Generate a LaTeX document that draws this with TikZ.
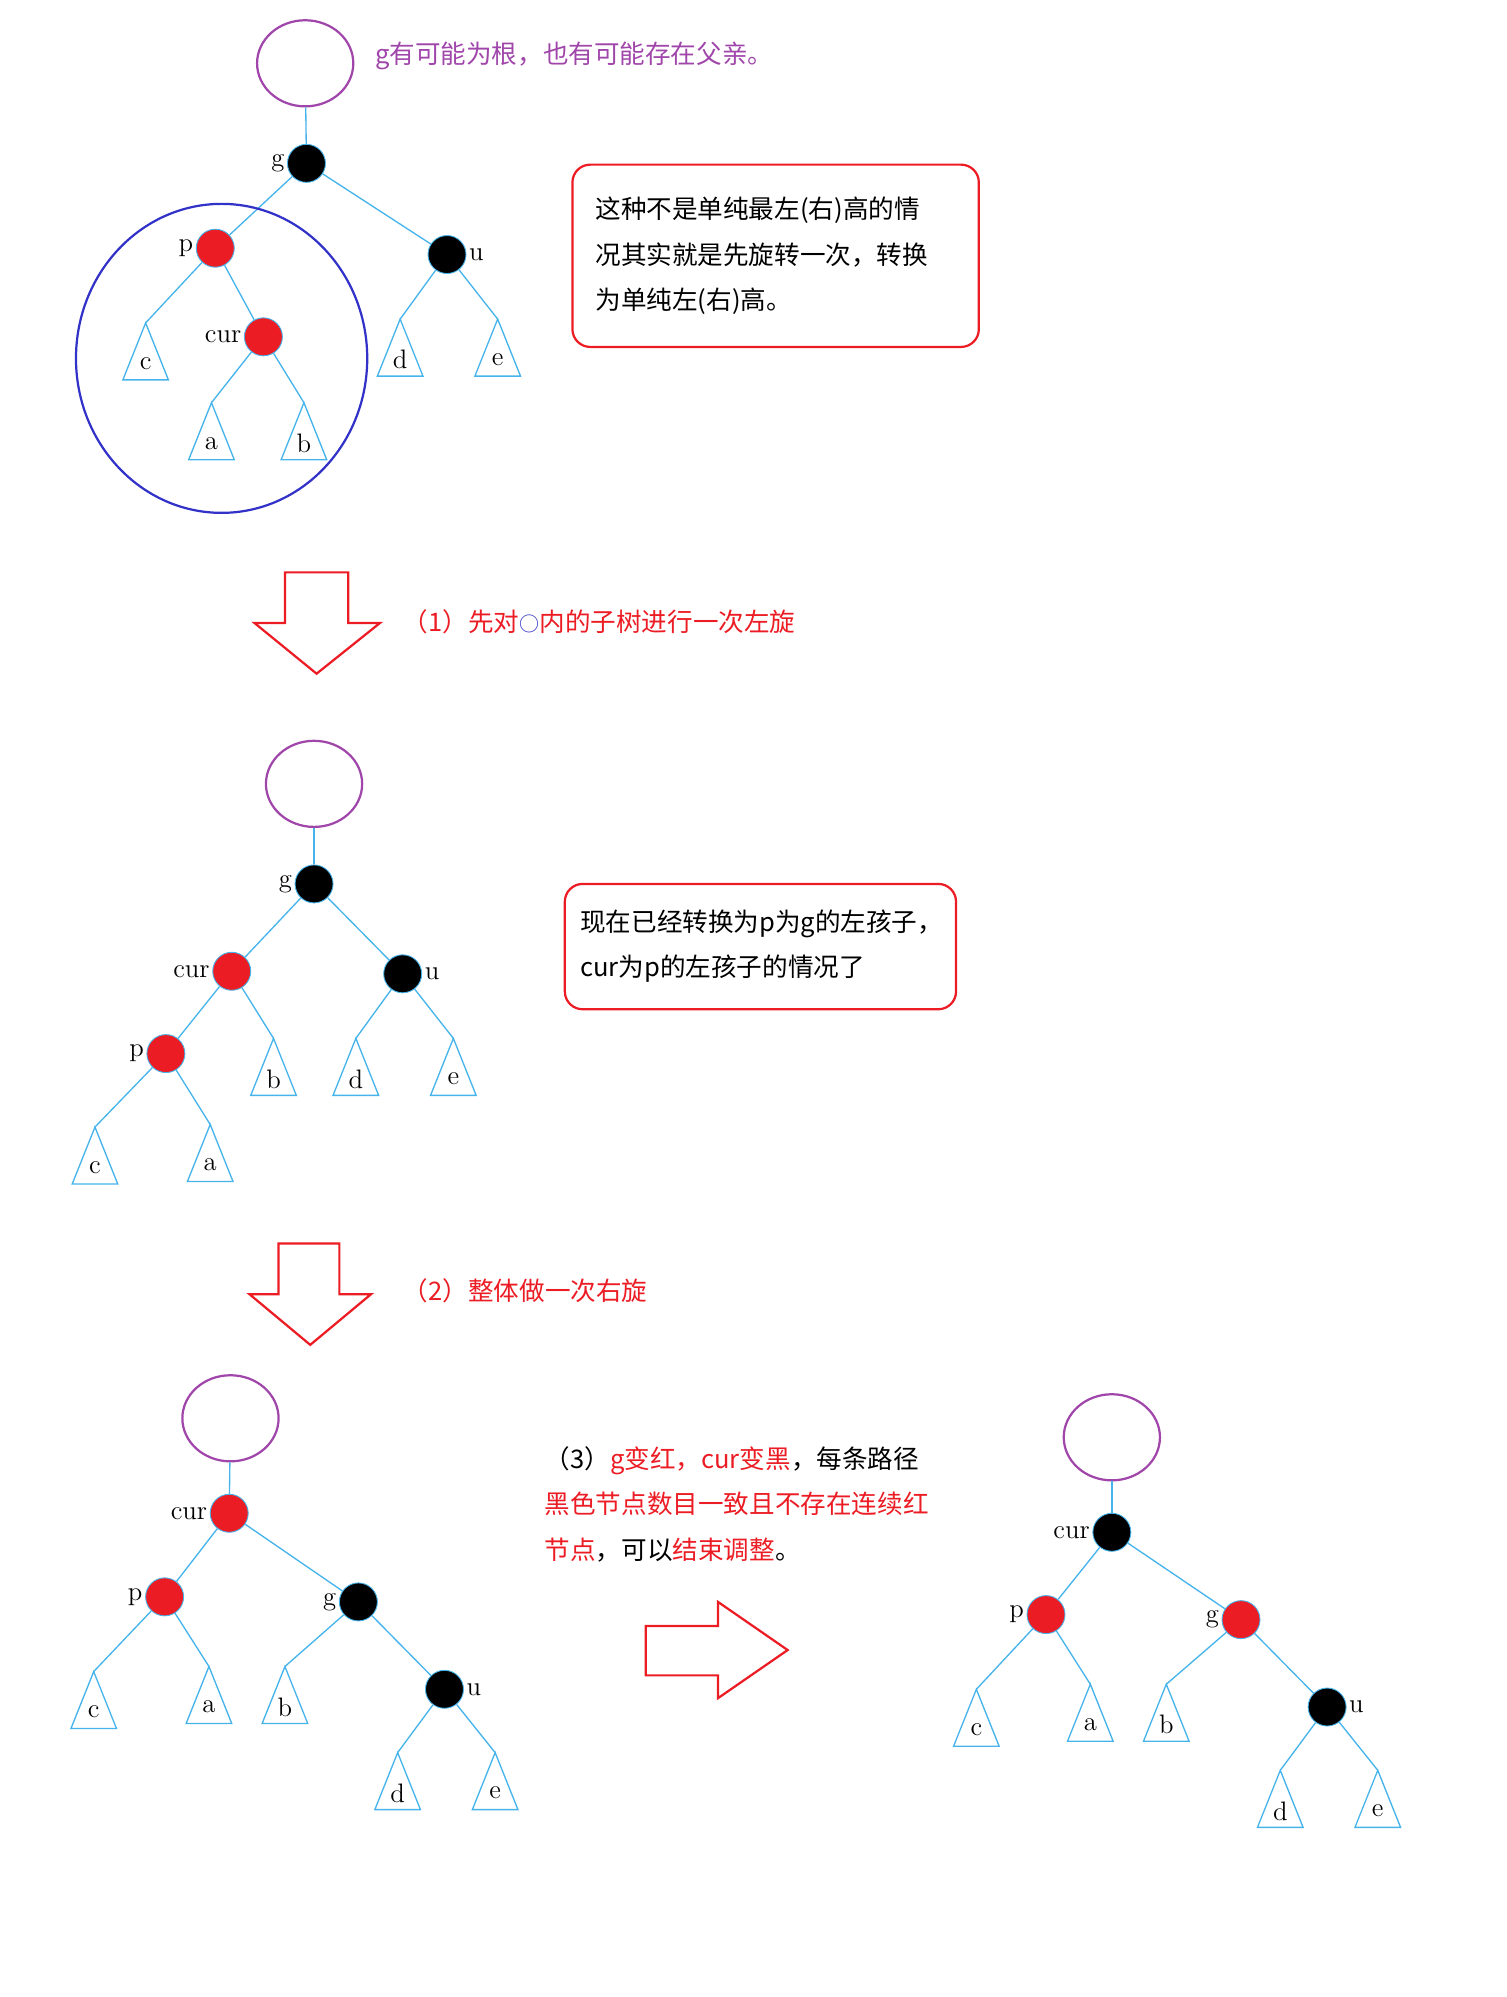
\documentclass[tikz,border=0pt]{standalone}
\usepackage{fontspec}
\newfontfamily\cjk{Noto Sans CJK SC}
\usetikzlibrary{calc,positioning}
\definecolor{edgecolor}{RGB}{70,180,235}
\definecolor{rbred}{RGB}{236,28,36}
\definecolor{rootcolor}{RGB}{160,70,170}
\definecolor{ringcolor}{RGB}{50,50,200}
\tikzset{
  edge/.style={draw=edgecolor, line width=0.6pt},
  rednode/.style={circle, draw=edgecolor, fill=rbred, minimum size=0.6cm, inner sep=0pt, label distance=4pt},
  blacknode/.style={circle, draw=edgecolor, fill=black, minimum size=0.6cm, inner sep=0pt, label distance=4pt},
  lbl/.style={font=\large, inner sep=1pt},
  rootring/.style={ellipse, draw=rootcolor, line width=1pt, minimum width=1.52cm, minimum height=1.36cm},
  note/.style={font=\cjk\fontsize{11.5}{20.5}\selectfont, align=left, anchor=west},
  notebox/.style={draw=rbred, line width=1pt, rounded corners=8pt},
  bigarrow/.style={draw=rbred, line width=1pt, fill=white}
}
\usetikzlibrary{shapes.geometric}
% subtree triangle: name, apex, letter
\newcommand\subtri[3]{%
  \coordinate (#1) at (#2);
  \draw[edge] (#1) -- ++(-18,45) -- ++(36,0) -- cycle;
  \node[lbl] (#1l) at ($(#1)+(0,32)$) {#3};}
\begin{document}
\begin{tikzpicture}[x=0.02cm, y=-0.02cm]
\useasboundingbox (0,0) rectangle (1190,1577);

% ---- first tree
\node[rootring] (r1) at (241,50) {};
\node[note, text=rootcolor] (t1) at (290,44) {g有可能为根，也有可能存在父亲。};
\node[blacknode, label={[lbl]left:g}] (g1) at (242,129) {};
\node[rednode, label={[lbl]left:p}] (p1) at (170,196) {};
\node[blacknode, label={[lbl]right:u}] (u1) at (353,201) {};
\node[rednode, label={[lbl]left:cur}] (cur1) at (208,266) {};
\subtri{c1}{115,255}{c}
\subtri{a1}{167,318}{a}
\subtri{b1}{240,318}{b}
\subtri{d1}{316,252}{d}
\subtri{e1}{393,252}{e}
\draw[edge] (r1) -- (g1);
\draw[edge] (g1) -- (p1);
\draw[edge] (g1) -- (u1);
\draw[edge] (p1) -- (c1);
\draw[edge] (p1) -- (cur1);
\draw[edge] (cur1) -- (a1);
\draw[edge] (cur1) -- (b1);
\draw[edge] (u1) -- (d1);
\draw[edge] (u1) -- (e1);
\draw[ringcolor, line width=1pt] (175,283) ellipse (115 and 122);
\node[notebox, minimum width=6.42cm, minimum height=2.88cm] (box1) at (612.5,202) {};
\node[note] (n1) at (464,202) {这种不是单纯最左(右)高的情\\况其实就是先旋转一次，转换\\为单纯左(右)高。};

% ---- first arrow
\draw[bigarrow] (225,452) -- (275,452) -- (275,492) -- (300,492) -- (250,532) -- (201,492) -- (225,492) -- cycle;
\node[note, text=rbred] (s1) at (312,491) {（1）先对{\color{ringcolor}\small○}内的子树进行一次左旋};

% ---- second tree
\node[rootring] (r2) at (248,619) {};
\node[blacknode, label={[lbl]left:g}] (g2) at (248,698) {};
\node[rednode, label={[lbl]left:cur}] (cur2) at (183,767) {};
\node[blacknode, label={[lbl]right:u}] (u2) at (318,769) {};
\node[rednode, label={[lbl]left:p}] (p2) at (131,832) {};
\subtri{b2}{216,820}{b}
\subtri{d2}{281,820}{d}
\subtri{e2}{358,820}{e}
\subtri{c2}{75,890}{c}
\subtri{a2}{166,888}{a}
\draw[edge] (r2) -- (g2);
\draw[edge] (g2) -- (cur2);
\draw[edge] (g2) -- (u2);
\draw[edge] (cur2) -- (p2);
\draw[edge] (cur2) -- (b2);
\draw[edge] (u2) -- (d2);
\draw[edge] (u2) -- (e2);
\draw[edge] (p2) -- (c2);
\draw[edge] (p2) -- (a2);
\node[notebox, minimum width=6.18cm, minimum height=1.98cm] (box2) at (600.5,747.5) {};
\node[note] (n2) at (452,747) {现在已经转换为p为g的左孩子，\\cur为p的左孩子的情况了};

% ---- second arrow
\draw[bigarrow] (220,982) -- (268,982) -- (268,1022) -- (293,1022) -- (245,1062) -- (197,1022) -- (220,1022) -- cycle;
\node[note, text=rbred] (s2) at (312,1019) {（2）整体做一次右旋};

% ---- third tree
\node[rootring] (r3) at (182,1120) {};
\node[rednode, label={[lbl]left:cur}] (cur3) at (181,1195) {};
\node[rednode, label={[lbl]left:p}] (p3) at (130,1261) {};
\node[blacknode, label={[lbl]left:g}] (g3) at (283,1265) {};
\node[blacknode, label={[lbl]right:u}] (u3) at (351,1334) {};
\subtri{c3}{74,1320}{c}
\subtri{a3}{165,1316}{a}
\subtri{b3}{225,1316}{b}
\subtri{d3}{314,1384}{d}
\subtri{e3}{391,1384}{e}
\draw[edge] (r3) -- (cur3);
\draw[edge] (cur3) -- (p3);
\draw[edge] (cur3) -- (g3);
\draw[edge] (p3) -- (c3);
\draw[edge] (p3) -- (a3);
\draw[edge] (g3) -- (b3);
\draw[edge] (g3) -- (u3);
\draw[edge] (u3) -- (d3);
\draw[edge] (u3) -- (e3);
\node[note] (n3) at (424,1188) {（3）{\color{rbred}g变红，cur变黑}，每条路径\\{\color{rbred}黑色节点数目一致且不存在连续红}\\{\color{rbred}节点}，可以{\color{rbred}结束调整}。};

% ---- right arrow
\draw[bigarrow] (510,1284) -- (567,1284) -- (567,1265) -- (622,1303) -- (567,1341) -- (567,1323) -- (510,1323) -- cycle;

% ---- fourth tree
\node[rootring] (r4) at (878,1135) {};
\node[blacknode, label={[lbl]left:cur}] (cur4) at (878,1210) {};
\node[rednode, label={[lbl]left:p}] (p4) at (826,1275) {};
\node[rednode, label={[lbl]left:g}] (g4) at (980,1279) {};
\node[blacknode, label={[lbl]right:u}] (u4) at (1048,1348) {};
\subtri{c4}{771,1334}{c}
\subtri{a4}{861,1330}{a}
\subtri{b4}{921,1330}{b}
\subtri{d4}{1011,1398}{d}
\subtri{e4}{1088,1398}{e}
\draw[edge] (r4) -- (cur4);
\draw[edge] (cur4) -- (p4);
\draw[edge] (cur4) -- (g4);
\draw[edge] (p4) -- (c4);
\draw[edge] (p4) -- (a4);
\draw[edge] (g4) -- (b4);
\draw[edge] (g4) -- (u4);
\draw[edge] (u4) -- (d4);
\draw[edge] (u4) -- (e4);
\end{tikzpicture}
\end{document}
